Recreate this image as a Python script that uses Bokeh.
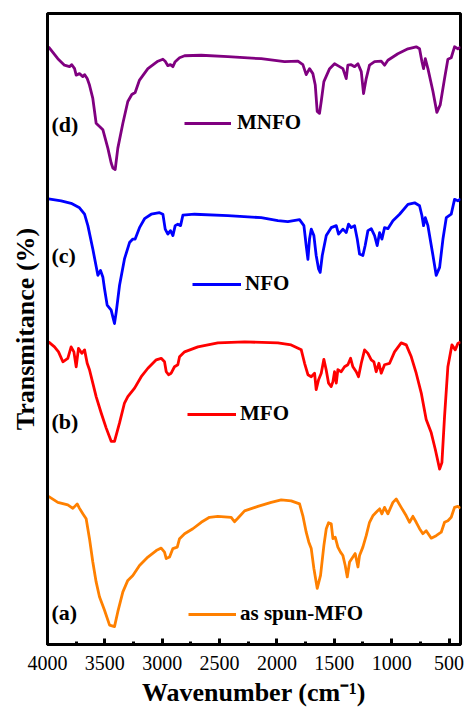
from bokeh.plotting import figure
from bokeh.models import Range1d, SingleIntervalTicker, FixedTicker, Legend, LegendItem, Label
from bokeh.embed import file_html
from bokeh.resources import INLINE

# ---------------- data ----------------
# (d) MNFO
wn_d = [3991, 3910, 3852, 3808, 3788, 3764, 3750, 3721, 3692, 3677, 3654, 3634, 3605, 3576, 3517,
        3474, 3445, 3430, 3410, 3387, 3343, 3300, 3265, 3236, 3198, 3125, 3038, 2994, 2974, 2951,
        2928, 2907, 2887, 2849, 2805, 2660, 2428, 2137, 1934, 1817, 1774, 1745, 1716, 1687, 1666,
        1649, 1629, 1614, 1591, 1541, 1498, 1469, 1425, 1396, 1382, 1353, 1323, 1294, 1265, 1245,
        1222, 1193, 1149, 1091, 1062, 1033, 946, 858, 786, 757, 736, 722, 707, 684, 640,
        606, 577, 539, 510, 481, 452, 423, 399]
t_d = [120.3, 117.9, 116.6, 116.3, 116.7, 115.9, 114.6, 114.9, 114.3, 114.7, 113.9, 112.6, 109.9, 104.9, 103.6,
       99.9, 96.9, 95.9, 95.6, 99.9, 104.9, 109.3, 110.7, 111.1, 113.6, 115.9, 117.4, 117.8, 117.4, 116.5,
       116.7, 116.3, 117.3, 118.1, 118.5, 118.6, 118.3, 117.9, 117.3, 117.4, 116.7, 114.7, 115.9, 114.9, 112.6,
       107.3, 106.9, 109.3, 113.3, 115.9, 116.9, 116.5, 115.9, 113.9, 116.6, 116.7, 116.3, 116.9, 115.3, 110.9,
       113.9, 116.6, 117.3, 117.4, 116.6, 117.6, 118.9, 119.9, 120.3, 119.9, 117.3, 115.9, 117.9, 115.9, 111.3,
       107.1, 108.6, 113.9, 117.8, 118.1, 120.3, 119.9, 120.3]

# (c) NFO
wn_c = [3991, 3881, 3794, 3721, 3677, 3648, 3605, 3561, 3538, 3517, 3503, 3480, 3445, 3430, 3416,
        3401, 3372, 3329, 3285, 3256, 3236, 3198, 3154, 3096, 3024, 2994, 2974, 2951, 2928, 2907,
        2887, 2864, 2840, 2820, 2718, 2428, 2137, 1992, 1905, 1803, 1765, 1745, 1730, 1716, 1701,
        1678, 1658, 1637, 1623, 1605, 1570, 1527, 1483, 1463, 1425, 1396, 1376, 1353, 1323, 1300,
        1280, 1251, 1231, 1207, 1178, 1149, 1126, 1105, 1085, 1062, 1033, 989, 931, 858, 800,
        757, 736, 722, 707, 684, 640, 612, 582, 553, 524, 481, 452, 423, 399]
t_c = [89.7, 89.3, 88.8, 87.9, 86.6, 84.3, 79.6, 74.3, 75.3, 73.9, 71.6, 68.3, 67.3, 65.9, 64.6,
       66.9, 72.3, 77.6, 80.9, 81.6, 81.6, 83.9, 85.7, 86.6, 86.9, 86.6, 83.6, 82.6, 83.3, 82.3,
       84.3, 84.6, 84.3, 86.4, 86.6, 86.3, 85.9, 85.3, 85.1, 85.5, 84.3, 80.3, 77.5, 81.6, 83.6,
       82.3, 78.3, 75.6, 74.9, 78.3, 82.3, 83.9, 84.3, 82.6, 83.6, 82.9, 84.6, 83.9, 84.3, 81.6,
       78.6, 78.3, 80.3, 83.3, 83.7, 82.3, 80.3, 82.9, 81.6, 83.9, 83.7, 85.3, 86.6, 88.6, 88.9,
       88.3, 86.3, 84.3, 85.9, 84.3, 78.3, 74.3, 75.9, 81.6, 85.9, 86.6, 89.6, 89.3, 89.7]

# (b) MFO
wn_b = [3991, 3939, 3904, 3866, 3823, 3794, 3770, 3750, 3730, 3701, 3677, 3654, 3634, 3605, 3576,
        3532, 3489, 3445, 3416, 3372, 3329, 3300, 3241, 3183, 3125, 3052, 3009, 2980, 2965, 2945,
        2922, 2893, 2864, 2849, 2805, 2689, 2515, 2282, 1992, 1876, 1788, 1759, 1730, 1701, 1672,
        1658, 1637, 1614, 1591, 1571, 1550, 1527, 1512, 1498, 1483, 1469, 1440, 1411, 1382, 1358,
        1338, 1309, 1289, 1265, 1236, 1207, 1178, 1155, 1135, 1111, 1091, 1062, 1018, 975, 917,
        873, 829, 786, 742, 699, 655, 620, 582, 562, 539, 510, 475, 446, 423, 399]
t_b = [60.9, 59.9, 58.9, 56.9, 57.6, 59.9, 58.9, 55.9, 59.6, 58.6, 59.3, 56.6, 55.3, 52.6, 49.9,
       46.6, 43.6, 40.9, 40.9, 44.6, 48.6, 49.9, 51.6, 53.9, 55.6, 57.3, 57.6, 56.9, 54.9, 54.3,
       54.6, 55.9, 56.3, 57.9, 58.9, 59.9, 60.7, 60.9, 60.7, 60.3, 59.3, 56.6, 54.3, 53.9, 54.6,
       51.3, 53.3, 54.6, 57.4, 55.3, 52.6, 51.9, 52.9, 54.9, 52.6, 55.3, 54.9, 55.9, 56.3, 57.6,
       55.9, 54.9, 53.9, 56.6, 59.3, 58.6, 57.3, 56.9, 54.9, 56.6, 54.6, 56.3, 56.6, 58.9, 60.7,
       60.3, 57.9, 54.6, 50.6, 45.3, 42.6, 39.3, 35.3, 36.6, 45.9, 55.9, 60.3, 59.3, 60.6, 60.9]

# (a) as spun-MFO
wn_a = [3991, 3910, 3823, 3779, 3741, 3721, 3692, 3663, 3634, 3605, 3576, 3547, 3503, 3459, 3416,
        3387, 3343, 3300, 3256, 3198, 3125, 3052, 3009, 2980, 2965, 2936, 2907, 2869, 2849, 2805,
        2733, 2660, 2588, 2515, 2399, 2370, 2341, 2282, 2166, 2050, 1963, 1876, 1803, 1774, 1745,
        1722, 1701, 1678, 1649, 1620, 1591, 1570, 1550, 1527, 1512, 1492, 1469, 1446, 1425, 1405,
        1387, 1367, 1338, 1318, 1294, 1280, 1251, 1222, 1193, 1164, 1135, 1105, 1085, 1062, 1033,
        989, 960, 917, 873, 844, 815, 786, 757, 728, 699, 655, 612, 568, 539, 510,
        481, 452, 423, 399]
t_a = [29.8, 28.6, 28.1, 27.4, 28.3, 27.4, 26.3, 25.3, 21.3, 16.6, 12.6, 9.6, 6.9, 3.9, 3.6,
       6.6, 10.6, 12.9, 13.9, 15.9, 17.6, 18.9, 19.4, 18.6, 17.3, 17.6, 19.3, 19.6, 21.3, 22.3,
       23.3, 24.6, 25.6, 25.8, 25.6, 24.7, 25.4, 26.9, 27.8, 28.6, 29.1, 28.9, 28.3, 25.9, 22.6,
       20.6, 19.3, 15.3, 11.3, 13.9, 19.9, 23.3, 24.5, 24.3, 21.3, 21.6, 19.6, 18.6, 17.9, 15.9,
       13.6, 16.6, 17.6, 18.3, 15.6, 17.9, 19.6, 21.9, 24.6, 25.9, 26.6, 27.3, 26.3, 27.6, 26.3,
       28.6, 29.3, 27.6, 25.9, 24.6, 25.8, 24.6, 23.3, 22.3, 22.9, 21.4, 21.9, 22.6, 24.6, 24.9,
       25.6, 27.6, 27.8, 27.4]

series_names = ["MNFO", "NFO", "MFO", "as spun-MFO"]
series_tags = ["(d)", "(c)", "(b)", "(a)"]
tag_y = [104.6, 78.2, 44.8, 6.4]
tag_x = 3965
series_colors = ["#800080", "#0000FF", "#FF0000", "#FF8000"]
x_tick_interval = 500

# ---------------- figure ----------------
SERIF = "Liberation Serif"

p = figure(width=464, height=709, output_backend="svg", toolbar_location=None,
           x_range=Range1d(4000, 400), y_range=Range1d(0, 127),
           min_border_left=47, min_border_right=4, min_border_top=13, min_border_bottom=61)
p.background_fill_color = "white"
p.border_fill_color = "white"
p.grid.visible = False
p.outline_line_color = "black"
p.outline_line_width = 3

xs = [wn_d, wn_c, wn_b, wn_a]
ys = [t_d, t_c, t_b, t_a]
renderers = []
for x, y, c in zip(xs, ys, series_colors):
    r = p.line(x, y, line_color=c, line_width=2.8, line_join="round")
    renderers.append(r)

# x axis
xa = p.xaxis[0]
xa.ticker = SingleIntervalTicker(interval=x_tick_interval, num_minor_ticks=2)
xa.axis_label = "Wavenumber (cm\u207B\u00B9)"
xa.axis_label_text_font = SERIF
xa.axis_label_text_font_style = "bold"
xa.axis_label_text_font_size = "26px"
xa.axis_label_text_color = "black"
xa.axis_label_text_line_height = 0.9
xa.axis_label_standoff = 5
xa.major_label_text_font = SERIF
xa.major_label_text_font_size = "20px"
xa.major_label_text_color = "black"
xa.major_label_text_line_height = 0.9
xa.major_label_standoff = 11
xa.axis_line_width = 3
xa.axis_line_color = "black"
xa.major_tick_in = 6
xa.major_tick_out = 0
xa.minor_tick_in = 3
xa.minor_tick_out = 0
xa.major_tick_line_width = 3
xa.minor_tick_line_width = 3
xa.major_tick_line_color = "black"
xa.minor_tick_line_color = "black"

# y axis (label only)
ya = p.yaxis[0]
ya.ticker = FixedTicker(ticks=[])
ya.axis_label = "Transmitance (%)"
ya.axis_label_text_font = SERIF
ya.axis_label_text_font_style = "bold"
ya.axis_label_text_font_size = "26px"
ya.axis_label_text_color = "black"
ya.axis_label_standoff = 8
ya.axis_line_width = 3
ya.axis_line_color = "black"
ya.major_tick_out = 0
ya.major_tick_in = 0
ya.minor_tick_out = 0
ya.minor_tick_in = 0

# series tags (a)-(d)
for t, yy in zip(series_tags, tag_y):
    p.add_layout(Label(x=tag_x, y=yy, text=t, text_font=SERIF, text_font_style="bold",
                       text_font_size="22px", text_color="black",
                       text_align="left", text_baseline="middle"))

# legends (one per curve)
leg_loc = [(137, 509), (145, 348), (140, 218), (141, 18)]
leg_glyph_w = [47, 49, 49, 48]
leg_standoff = [6, 4, 4, 4]
for name, r, loc, gw, so in zip(series_names, renderers, leg_loc, leg_glyph_w, leg_standoff):
    leg = Legend(items=[LegendItem(label=name, renderers=[r])], location=loc,
                 orientation="vertical", border_line_color=None, background_fill_alpha=0,
                 padding=0, margin=0, spacing=0, glyph_width=gw, glyph_height=20,
                 label_height=20, label_standoff=so,
                 label_text_font=SERIF, label_text_font_style="bold",
                 label_text_font_size="21px", label_text_color="black",
                 label_text_baseline="middle")
    p.add_layout(leg)

open("out.html", "w").write(file_html(p, INLINE))
